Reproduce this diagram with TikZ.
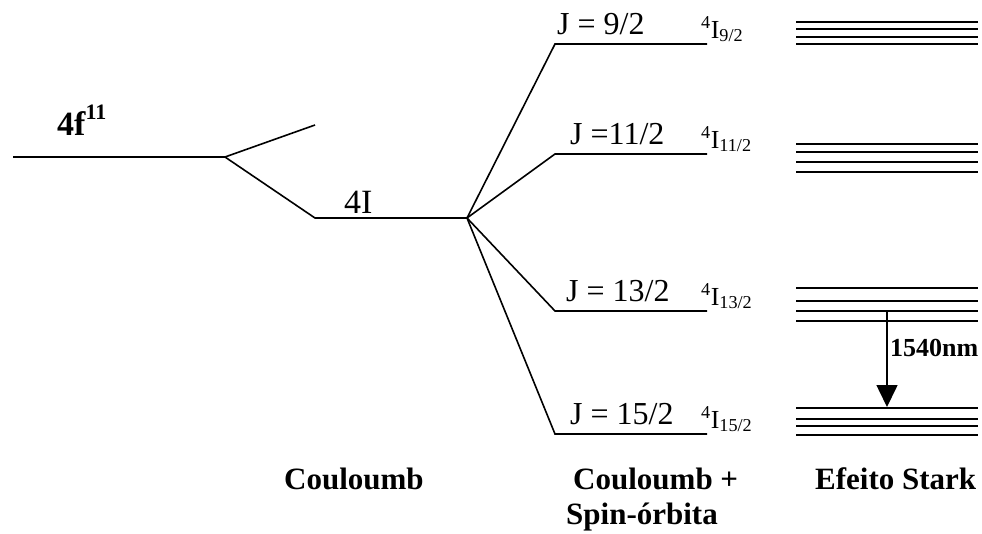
\documentclass[tikz,border=0pt]{standalone}
\usepackage{fontspec}
\setmainfont{Liberation Serif}
\usetikzlibrary{arrows.meta,positioning}
\tikzset{
    level/.style = {draw, line width=1.6pt},
    stark/.style = {draw, line width=2pt},
    lbl/.style = {inner sep=0pt, font=\fontsize{32}{36}\selectfont},
    term/.style = {inner sep=0pt, font=\fontsize{26}{30}\selectfont},
    title/.style = {inner sep=0pt, font=\fontsize{31}{36}\selectfont\bfseries},
    emission/.style = {draw, line width=1.6pt, -{Triangle[length=22pt,width=21pt]}}
}

\begin{document}
\begin{tikzpicture}[x=1pt, y=-1pt]
        \useasboundingbox (0,0) rectangle (982,533);
        % free ion and Coulomb splitting
        \coordinate (f0) at (13,157);
        \coordinate (f1) at (225,157);
        \coordinate (fup) at (315,125);
        \coordinate (i0) at (315,218);
        \coordinate (i1) at (467,218);
        \draw [level] (f0) -- (f1) -- (fup);
        \draw [level] (f1) -- (i0) -- (i1);
        \node [inner sep=0pt, anchor=base west, font=\fontsize{34}{38}\selectfont\bfseries] (conf) at (57,135) {4f\raisebox{16pt}{\fontsize{22}{22}\selectfont 11}};
        \node [lbl, anchor=base west, font=\fontsize{34}{38}\selectfont] (russ) at (344,213) {4I};
        % spin-orbit levels
        \foreach \a/\y/\jx/\jtxt/\sub in {1/44/557/{J = 9/2}/{9/2},2/154/570/{J =11/2}/{11/2},3/311/566/{J = 13/2}/{13/2},4/434/570/{J = 15/2}/{15/2}}{
            \coordinate (j\a a) at (555,\y);
            \coordinate (j\a b) at (707,\y);
            \draw [level] (i1) -- (j\a a) -- (j\a b);
            \node [lbl, anchor=base west] (jlab\a) at (\jx,\y-10) {\jtxt};
            \node [term, anchor=base west] (term\a) at (701,\y-6) {\textsuperscript{4}I\textsubscript{\sub}};
        }
        % Stark sublevels
        \foreach \g/\ys in {1/{22,29,37,44},2/{144,152,162,172},3/{288,301,311,321},4/{408,419,426,435}}{
            \foreach \yy in \ys{
                \draw [stark] (796,\yy) -- (978,\yy);
            }
        }
        \coordinate (emtop) at (887,311);
        \coordinate (embot) at (887,407);
        \draw [emission] (emtop) -- (embot);
        \node [inner sep=0pt, anchor=west, font=\fontsize{26}{30}\selectfont\bfseries] (lambda) at (890,348) {1540nm};
        % column titles
        \node [title, anchor=base west] (tcoul) at (284,489) {Couloumb};
        \node [title, anchor=base west] (tso) at (573,489) {Couloumb +};
        \node [title, anchor=base west] (tso2) at (566,524) {Spin-órbita};
        \node [title, anchor=base west] (tstark) at (815,489) {Efeito Stark};
\end{tikzpicture}
\end{document}
